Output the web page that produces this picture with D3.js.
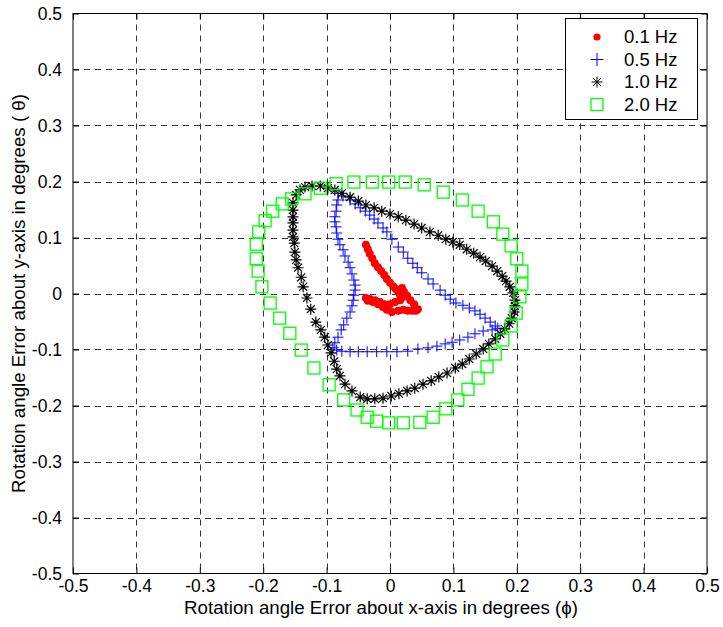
<!DOCTYPE html>
<html>
<head>
<meta charset="utf-8">
<script src="https://cdn.jsdelivr.net/npm/d3@7"></script>
<style>
  html, body { margin: 0; padding: 0; background: #fff; }
  svg { display: block; }
  text { font-family: "Liberation Sans", Arial, Helvetica, sans-serif; fill: #000; }
</style>
</head>
<body>
<svg id="chart" width="723" height="627"></svg>
<script>
// Tick values shared by both axes
const tickValues = [-0.5, -0.4, -0.3, -0.2, -0.1, 0, 0.1, 0.2, 0.3, 0.4, 0.5];

// Series labels (legend order)
const seriesNames = ["0.1 Hz", "0.5 Hz", "1.0 Hz", "2.0 Hz"];

// 0.1 Hz: rotation error trajectory [phi, theta] in degrees
const hz01 = [
  [-0.038, 0.087], [-0.035, 0.079], [-0.032, 0.071], [-0.028, 0.063], [-0.024, 0.054],
  [-0.019, 0.047], [-0.014, 0.040], [-0.009, 0.033], [-0.005, 0.026], [0.000, 0.019],
  [0.005, 0.013], [0.009, 0.008], [0.013, 0.003], [0.016, -0.003], [0.021, -0.006],
  [0.016, -0.012], [0.008, -0.015], [0.000, -0.019], [-0.008, -0.019], [-0.016, -0.015],
  [-0.024, -0.012], [-0.032, -0.010], [-0.038, -0.008], [-0.035, -0.013], [-0.027, -0.015],
  [-0.019, -0.019], [-0.011, -0.024], [-0.005, -0.029], [0.003, -0.033], [0.013, -0.031],
  [0.021, -0.029], [0.028, -0.031], [0.035, -0.031], [0.041, -0.031], [0.044, -0.028],
  [0.038, -0.019], [0.032, -0.012], [0.027, -0.004], [0.022, 0.003], [0.019, 0.010]
];

// 0.5 Hz
const hz05 = [
  [-0.082, 0.179], [-0.074, 0.174], [-0.063, 0.167], [-0.055, 0.160], [-0.047, 0.153],
  [-0.039, 0.147], [-0.032, 0.140], [-0.025, 0.133], [-0.019, 0.126], [-0.011, 0.117],
  [-0.005, 0.110], [0.003, 0.097], [0.013, 0.083], [0.021, 0.074], [0.028, 0.063],
  [0.036, 0.054], [0.043, 0.046], [0.050, 0.037], [0.060, 0.026], [0.068, 0.017],
  [0.079, 0.006], [0.087, -0.003], [0.095, -0.010], [0.104, -0.017], [0.115, -0.021],
  [0.125, -0.026], [0.134, -0.031], [0.142, -0.037], [0.150, -0.044], [0.158, -0.051],
  [0.166, -0.058], [0.170, -0.062], [0.161, -0.065], [0.147, -0.067], [0.134, -0.072],
  [0.123, -0.078], [0.110, -0.083], [0.098, -0.087], [0.087, -0.090], [0.074, -0.094],
  [0.060, -0.097], [0.044, -0.099], [0.028, -0.103], [0.011, -0.104], [-0.005, -0.104],
  [-0.021, -0.104], [-0.036, -0.104], [-0.050, -0.104], [-0.063, -0.104], [-0.076, -0.103],
  [-0.084, -0.101], [-0.090, -0.097], [-0.087, -0.088], [-0.082, -0.078], [-0.077, -0.065],
  [-0.073, -0.056], [-0.068, -0.044], [-0.063, -0.033], [-0.060, -0.022], [-0.058, -0.012],
  [-0.057, -0.003], [-0.055, 0.006], [-0.055, 0.015], [-0.057, 0.024], [-0.060, 0.035],
  [-0.063, 0.046], [-0.066, 0.056], [-0.071, 0.067], [-0.074, 0.078], [-0.079, 0.087],
  [-0.082, 0.097], [-0.084, 0.108], [-0.085, 0.119], [-0.087, 0.128], [-0.087, 0.137],
  [-0.085, 0.147], [-0.084, 0.158], [-0.082, 0.167]
];

// 1.0 Hz
const hz10 = [
  [-0.148, 0.176], [-0.142, 0.185], [-0.134, 0.190], [-0.123, 0.192], [-0.110, 0.192],
  [-0.098, 0.188], [-0.087, 0.185], [-0.076, 0.179], [-0.063, 0.172], [-0.050, 0.165],
  [-0.038, 0.158], [-0.025, 0.153], [-0.013, 0.147], [0.000, 0.142], [0.013, 0.137],
  [0.025, 0.131], [0.038, 0.124], [0.050, 0.117], [0.063, 0.110], [0.076, 0.104],
  [0.088, 0.097], [0.099, 0.092], [0.110, 0.087], [0.121, 0.079], [0.132, 0.072],
  [0.142, 0.065], [0.151, 0.058], [0.161, 0.049], [0.169, 0.040], [0.177, 0.031],
  [0.183, 0.022], [0.189, 0.012], [0.194, 0.001], [0.197, -0.012], [0.197, -0.022],
  [0.196, -0.033], [0.192, -0.044], [0.188, -0.054], [0.181, -0.063], [0.174, -0.072],
  [0.166, -0.081], [0.156, -0.090], [0.147, -0.099], [0.136, -0.108], [0.125, -0.117],
  [0.114, -0.126], [0.103, -0.133], [0.090, -0.142], [0.077, -0.149], [0.065, -0.156],
  [0.052, -0.162], [0.039, -0.169], [0.027, -0.174], [0.014, -0.179], [0.002, -0.183],
  [-0.011, -0.187], [-0.024, -0.188], [-0.036, -0.188], [-0.047, -0.185], [-0.060, -0.174],
  [-0.071, -0.162], [-0.079, -0.147], [-0.084, -0.135], [-0.088, -0.121], [-0.093, -0.106],
  [-0.098, -0.092], [-0.103, -0.078], [-0.109, -0.065], [-0.117, -0.051], [-0.125, -0.028],
  [-0.131, -0.008], [-0.137, 0.012], [-0.140, 0.029], [-0.145, 0.046], [-0.148, 0.060],
  [-0.150, 0.074], [-0.151, 0.090], [-0.153, 0.101], [-0.153, 0.113], [-0.153, 0.126],
  [-0.153, 0.137], [-0.153, 0.149], [-0.153, 0.162]
];

// 2.0 Hz
const hz20 = [
  [-0.085, 0.196], [-0.057, 0.199], [-0.028, 0.199], [-0.002, 0.199], [0.024, 0.199],
  [0.054, 0.194], [0.084, 0.181], [0.114, 0.167], [0.139, 0.147], [0.163, 0.128],
  [0.178, 0.106], [0.191, 0.085], [0.200, 0.062], [0.208, 0.040], [0.208, 0.017],
  [0.205, -0.006], [0.199, -0.035], [0.191, -0.058], [0.178, -0.083], [0.166, -0.108],
  [0.153, -0.131], [0.139, -0.151], [0.123, -0.171], [0.107, -0.190], [0.088, -0.206],
  [0.068, -0.221], [0.047, -0.230], [0.021, -0.231], [-0.002, -0.231], [-0.021, -0.228],
  [-0.036, -0.221], [-0.052, -0.208], [-0.073, -0.190], [-0.096, -0.163], [-0.120, -0.133],
  [-0.140, -0.101], [-0.158, -0.071], [-0.174, -0.044], [-0.189, -0.017], [-0.202, 0.012],
  [-0.208, 0.040], [-0.211, 0.062], [-0.211, 0.088], [-0.207, 0.110], [-0.197, 0.130],
  [-0.185, 0.147], [-0.170, 0.160], [-0.155, 0.169], [-0.134, 0.178], [-0.110, 0.188]
];

const svg = d3.select("#chart");
const plot = { left: 73, right: 707, top: 13.5, bottom: 573.5 };
const x = d3.scaleLinear().domain([-0.5, 0.5]).range([plot.left, plot.right]);
const y = d3.scaleLinear().domain([-0.5, 0.5]).range([plot.bottom, plot.top]);
const fmt = d => (d === 0 ? "0" : String(d));

// Dashed grid
const grid = svg.append("g").attr("stroke", "#333").attr("stroke-width", 1)
  .attr("stroke-dasharray", "6,5").attr("fill", "none");
grid.selectAll("line.v").data(tickValues.slice(1, -1)).join("line")
  .attr("x1", d => Math.round(x(d)) + 0.5).attr("x2", d => Math.round(x(d)) + 0.5)
  .attr("y1", plot.top).attr("y2", plot.bottom);
grid.selectAll("line.h").data(tickValues.slice(1, -1)).join("line")
  .attr("y1", d => Math.round(y(d)) + 0.5).attr("y2", d => Math.round(y(d)) + 0.5)
  .attr("x1", plot.left).attr("x2", plot.right);

// Axes with inward ticks on all four sides
function styleAxis(g) {
  g.select(".domain").remove();
  g.selectAll(".tick line").attr("stroke", "#000");
  g.selectAll(".tick text").attr("font-size", 17.5).attr("fill", "#000")
    .attr("font-family", "'Liberation Sans', Arial, sans-serif");
}
svg.append("g").attr("transform", `translate(0,${plot.bottom})`)
  .call(d3.axisBottom(x).tickValues(tickValues).tickFormat(fmt).tickSize(-6).tickPadding(6))
  .call(styleAxis);
svg.append("g").attr("transform", `translate(${plot.left},0)`)
  .call(d3.axisLeft(y).tickValues(tickValues).tickFormat(fmt).tickSize(-6).tickPadding(11))
  .call(styleAxis);
svg.append("g").attr("transform", `translate(0,${plot.top})`)
  .call(d3.axisTop(x).tickValues(tickValues).tickFormat("").tickSize(-6))
  .call(styleAxis);
svg.append("g").attr("transform", `translate(${plot.right},0)`)
  .call(d3.axisRight(y).tickValues(tickValues).tickFormat("").tickSize(-6))
  .call(styleAxis);

// Frame
svg.append("rect")
  .attr("x", plot.left).attr("y", plot.top)
  .attr("width", plot.right - plot.left).attr("height", plot.bottom - plot.top)
  .attr("fill", "none").attr("stroke", "#000").attr("stroke-width", 1);

// Marker shapes
const plusPath = s => `M${-s / 2},0H${s / 2}M0,${-s / 2}V${s / 2}`;
const starPath = s => {
  const a = s / 2, b = a * 0.72;
  return `M${-a},0H${a}M0,${-a}V${a}M${-b},${-b}L${b},${b}M${-b},${b}L${b},${-b}`;
};

// 0.1 Hz dots
svg.append("g").selectAll("circle").data(hz01).join("circle")
  .attr("cx", d => x(d[0])).attr("cy", d => y(d[1])).attr("r", 4)
  .attr("fill", "#ff0000");

// 0.5 Hz plus markers
svg.append("g").selectAll("path").data(hz05).join("path")
  .attr("transform", d => `translate(${x(d[0])},${y(d[1])})`)
  .attr("d", plusPath(11)).attr("stroke", "#0000ff").attr("stroke-width", 1).attr("fill", "none");

// 1.0 Hz asterisks
svg.append("g").selectAll("path").data(hz10).join("path")
  .attr("transform", d => `translate(${x(d[0])},${y(d[1])})`)
  .attr("d", starPath(11)).attr("stroke", "#000").attr("stroke-width", 1.2).attr("fill", "none");

// 2.0 Hz open squares
const sq = 12;
svg.append("g").selectAll("rect").data(hz20).join("rect")
  .attr("x", d => x(d[0]) - sq / 2).attr("y", d => y(d[1]) - sq / 2)
  .attr("width", sq).attr("height", sq)
  .attr("fill", "none").attr("stroke", "#00ff00").attr("stroke-width", 1.3);

// Legend
const lg = svg.append("g").attr("transform", "translate(565,18)");
lg.append("rect").attr("x", 0.5).attr("y", 0.5).attr("width", 132).attr("height", 101)
  .attr("fill", "#fff").attr("stroke", "#000").attr("stroke-width", 1);
const rowY = i => 19 + i * 22.5;
const mx = 32;
lg.append("circle").attr("cx", mx).attr("cy", rowY(0)).attr("r", 3.6).attr("fill", "#ff0000");
lg.append("path").attr("transform", `translate(${mx},${rowY(1)})`).attr("d", plusPath(13))
  .attr("stroke", "#0000ff").attr("fill", "none");
lg.append("path").attr("transform", `translate(${mx},${rowY(2)})`).attr("d", starPath(11))
  .attr("stroke", "#000").attr("fill", "none");
lg.append("rect").attr("x", mx - 6).attr("y", rowY(3) - 6).attr("width", 12).attr("height", 12)
  .attr("fill", "none").attr("stroke", "#00ff00").attr("stroke-width", 1.3);
lg.selectAll("text.lbl").data(seriesNames).join("text").attr("class", "lbl")
  .attr("x", 59).attr("y", (d, i) => rowY(i)).attr("dy", "0.35em")
  .attr("font-size", 18.5).text(d => d);

// Axis titles
svg.append("text").attr("x", 381).attr("y", 614)
  .attr("text-anchor", "middle").attr("font-size", 18.7)
  .text("Rotation angle Error about x-axis in degrees (\u03D5)");
svg.append("text").attr("transform", `translate(25,${(plot.top + plot.bottom) / 2}) rotate(-90)`)
  .attr("text-anchor", "middle").attr("font-size", 18.7)
  .text("Rotation angle Error about y-axis in degrees ( \u03B8)");
</script>
</body>
</html>
